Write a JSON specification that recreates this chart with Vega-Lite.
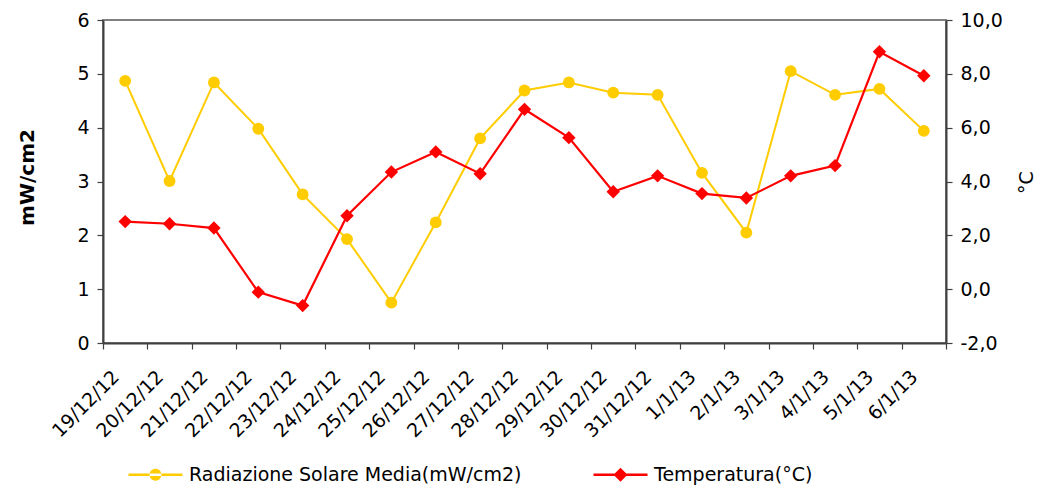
{
  "$schema": "https://vega.github.io/schema/vega-lite/v6.json",
  "width": 843,
  "height": 323,
  "autosize": {"type": "none"},
  "padding": {"left": 103, "top": 20, "right": 94, "bottom": 150},
  "background": "white",
  "config": {
    "view": {"stroke": "#808080", "strokeWidth": 2},
    "font": "DejaVu Sans",
    "axis": {
      "grid": false,
      "domainColor": "#404040",
      "domainWidth": 2,
      "tickColor": "#404040",
      "tickWidth": 1.2,
      "tickSize": 6,
      "labelColor": "#000000",
      "labelFont": "DejaVu Sans",
      "labelFontSize": 19,
      "titleColor": "#000000",
      "titleFont": "DejaVu Sans"
    }
  },
  "datasets": {
    "main": [
      {"data": "19/12/12", "radiazione": 4.87, "temperatura": 2.51},
      {"data": "20/12/12", "radiazione": 3.01, "temperatura": 2.43},
      {"data": "21/12/12", "radiazione": 4.84, "temperatura": 2.27},
      {"data": "22/12/12", "radiazione": 3.98, "temperatura": -0.11},
      {"data": "23/12/12", "radiazione": 2.76, "temperatura": -0.61},
      {"data": "24/12/12", "radiazione": 1.93, "temperatura": 2.73},
      {"data": "25/12/12", "radiazione": 0.75, "temperatura": 4.35},
      {"data": "26/12/12", "radiazione": 2.24, "temperatura": 5.1},
      {"data": "27/12/12", "radiazione": 3.8, "temperatura": 4.29},
      {"data": "28/12/12", "radiazione": 4.69, "temperatura": 6.68},
      {"data": "29/12/12", "radiazione": 4.84, "temperatura": 5.63},
      {"data": "30/12/12", "radiazione": 4.65, "temperatura": 3.62},
      {"data": "31/12/12", "radiazione": 4.61, "temperatura": 4.21},
      {"data": "1/1/13", "radiazione": 3.16, "temperatura": 3.55},
      {"data": "2/1/13", "radiazione": 2.05, "temperatura": 3.39},
      {"data": "3/1/13", "radiazione": 5.05, "temperatura": 4.21},
      {"data": "4/1/13", "radiazione": 4.61, "temperatura": 4.59},
      {"data": "5/1/13", "radiazione": 4.72, "temperatura": 8.82},
      {"data": "6/1/13", "radiazione": 3.94, "temperatura": 7.93}
    ],
    "legenda": [
      {"serie": "Radiazione Solare Media(mW/cm2)"},
      {"serie": "Temperatura(°C)"}
    ]
  },
  "data": {"name": "main"},
  "encoding": {
    "x": {
      "field": "data",
      "type": "ordinal",
      "sort": null,
      "bandPosition": 0.5,
      "scale": {"type": "band", "paddingInner": 0, "paddingOuter": 0},
      "axis": {
        "title": null,
        "tickBand": "extent",
        "labelAngle": -45,
        "labelAlign": "right",
        "labelBaseline": "top",
        "labelOffset": -16,
        "labelPadding": 18
      }
    }
  },
  "layer": [
    {
      "mark": {"type": "line", "color": "#FFCC00", "strokeWidth": 2},
      "encoding": {
        "y": {
          "field": "radiazione",
          "type": "quantitative",
          "scale": {"domain": [0, 6], "nice": false, "zero": false},
          "axis": {
            "values": [0, 1, 2, 3, 4, 5, 6],
            "format": "d",
            "labelPadding": 8,
            "title": "mW/cm2",
            "titleFontSize": 20,
            "titleFontWeight": "bold",
            "titleAngle": -90,
            "titleAlign": "center",
            "titleBaseline": "middle",
            "titleX": -76,
            "titleY": 157
          }
        }
      }
    },
    {
      "mark": {"type": "point", "shape": "circle", "filled": true, "opacity": 1, "color": "#FFCC00", "size": 140},
      "encoding": {
        "y": {
          "field": "radiazione",
          "type": "quantitative",
          "scale": {"domain": [0, 6], "nice": false, "zero": false},
          "axis": null
        }
      }
    },
    {
      "mark": {"type": "line", "color": "#FF0000", "strokeWidth": 2.2},
      "encoding": {
        "y": {
          "field": "temperatura",
          "type": "quantitative",
          "scale": {"domain": [-2, 10], "nice": false, "zero": false},
          "axis": {
            "orient": "right",
            "values": [-2, 0, 2, 4, 6, 8, 10],
            "labelExpr": "replace(replace(format(datum.value, '.1f'), '.', ','), '\u2212', '-')",
            "labelPadding": 8,
            "title": "°C",
            "titleFontSize": 19,
            "titleFontWeight": "normal",
            "titleAngle": -90,
            "titleAlign": "center",
            "titleBaseline": "middle",
            "titleX": 80,
            "titleY": 162
          }
        }
      }
    },
    {
      "mark": {"type": "point", "shape": "diamond", "filled": true, "opacity": 1, "color": "#FF0000", "size": 180},
      "encoding": {
        "y": {
          "field": "temperatura",
          "type": "quantitative",
          "scale": {"domain": [-2, 10], "nice": false, "zero": false},
          "axis": null
        }
      }
    },
    {
      "data": {"name": "legenda"},
      "mark": {"type": "point", "filled": true, "opacity": 0, "size": 729},
      "encoding": {
        "x": {"value": 0},
        "y": {"value": 0},
        "color": {
          "field": "serie",
          "type": "nominal",
          "sort": null,
          "scale": {
            "domain": ["Radiazione Solare Media(mW/cm2)", "Temperatura(°C)"],
            "range": ["#FFCC00", "#FF0000"]
          },
          "legend": {
            "title": null,
            "orient": "none",
            "direction": "horizontal",
            "legendX": 39,
            "legendY": 441,
            "padding": 0,
            "symbolSize": 729,
            "symbolStrokeWidth": 0,
            "symbolOpacity": 1,
            "labelFont": "DejaVu Sans",
            "labelFontSize": 19,
            "labelColor": "#000000",
            "labelOffset": 20,
            "labelLimit": 0,
            "columnPadding": 71
          }
        },
        "shape": {
          "field": "serie",
          "type": "nominal",
          "sort": null,
          "scale": {
            "domain": ["Radiazione Solare Media(mW/cm2)", "Temperatura(°C)"],
            "range": [
              "M-2,-0.09L2,-0.09L2,0.09L-2,0.09Z M-0.44,0A0.44,0.44,0,1,0,0.44,0A0.44,0.44,0,1,0,-0.44,0Z",
              "M-2,-0.09L2,-0.09L2,0.09L-2,0.09Z M0,-0.52L0.52,0L0,0.52L-0.52,0Z"
            ]
          },
          "legend": {
            "title": null,
            "orient": "none",
            "direction": "horizontal",
            "legendX": 39,
            "legendY": 441,
            "padding": 0,
            "symbolSize": 729,
            "symbolStrokeWidth": 0,
            "symbolOpacity": 1,
            "labelFont": "DejaVu Sans",
            "labelFontSize": 19,
            "labelColor": "#000000",
            "labelOffset": 20,
            "labelLimit": 0,
            "columnPadding": 71
          }
        }
      }
    }
  ],
  "resolve": {"scale": {"y": "independent"}}
}
